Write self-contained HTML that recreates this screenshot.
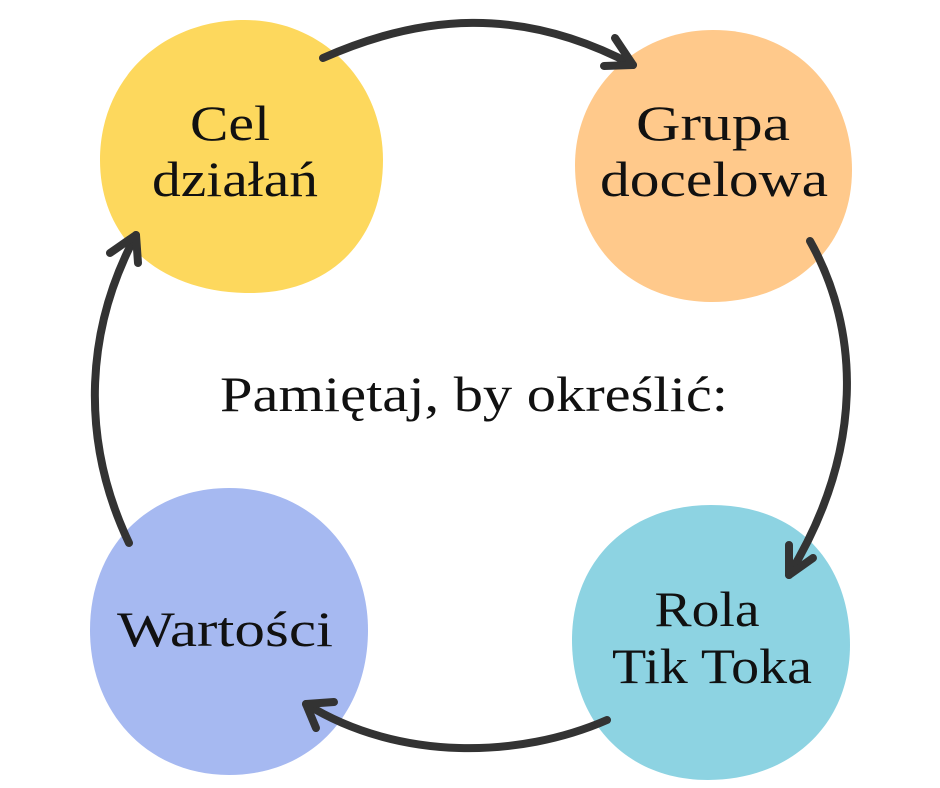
<!DOCTYPE html>
<html><head><meta charset="utf-8"><style>
html,body{margin:0;padding:0;background:#fff;}
svg{display:block}
text{font-family:"Liberation Serif",serif;fill:#111;text-anchor:middle}
</style></head><body>
<svg width="940" height="788" viewBox="0 0 940 788">
<path d="M241,20 C320,18 383,80 383,160 C383,240 330,295 245,293 C160,291 100,240 100,160 C100,80 160,22 241,20Z" fill="#FDD85D"/>
<path d="M713,30 C800,30 852,95 852,170 C852,250 790,303 710,302 C630,301 575,245 575,165 C575,90 635,30 713,30Z" fill="#FFC98B"/>
<path d="M711,505 C800,505 850,565 850,645 C850,725 790,780 708,780 C625,780 572,720 572,640 C572,560 630,505 711,505Z" fill="#8DD3E2"/>
<path d="M229,488 C310,488 368,550 368,630 C368,715 310,775 229,775 C150,775 90,715 90,630 C90,545 150,488 229,488Z" fill="#A6B9F1"/>
<g fill="none" stroke="#333" stroke-width="8" stroke-linecap="round" stroke-linejoin="round">
<path d="M323,58 C420,15 520,5 633,65"/>
<path d="M615,38 L633,65 L604,66"/>
<path d="M810,241 C860,330 865,450 789,575"/>
<path d="M789,545 L789,575 L813,558"/>
<path d="M607,720 C520,758 400,762 306,704"/>
<path d="M334,702 L306,704 L316,728"/>
<path d="M129,543 C80,440 85,330 136,235"/>
<path d="M110,253 L136,235 L138,263"/>
</g>
<g font-size="50">
<text x="230" y="140" textLength="80" lengthAdjust="spacingAndGlyphs">Cel</text>
<text x="235" y="196" textLength="166" lengthAdjust="spacingAndGlyphs">działań</text>
<text x="713" y="140" textLength="154" lengthAdjust="spacingAndGlyphs">Grupa</text>
<text x="714" y="196" textLength="228" lengthAdjust="spacingAndGlyphs">docelowa</text>
<text x="707" y="626" textLength="105" lengthAdjust="spacingAndGlyphs">Rola</text>
<text x="712" y="683" textLength="200" lengthAdjust="spacingAndGlyphs">Tik Toka</text>
<text x="225" y="646" textLength="216" lengthAdjust="spacingAndGlyphs">Wartości</text>
<text x="474" y="411" textLength="508" lengthAdjust="spacingAndGlyphs">Pamiętaj, by określić:</text>
</g>
</svg>
</body></html>
